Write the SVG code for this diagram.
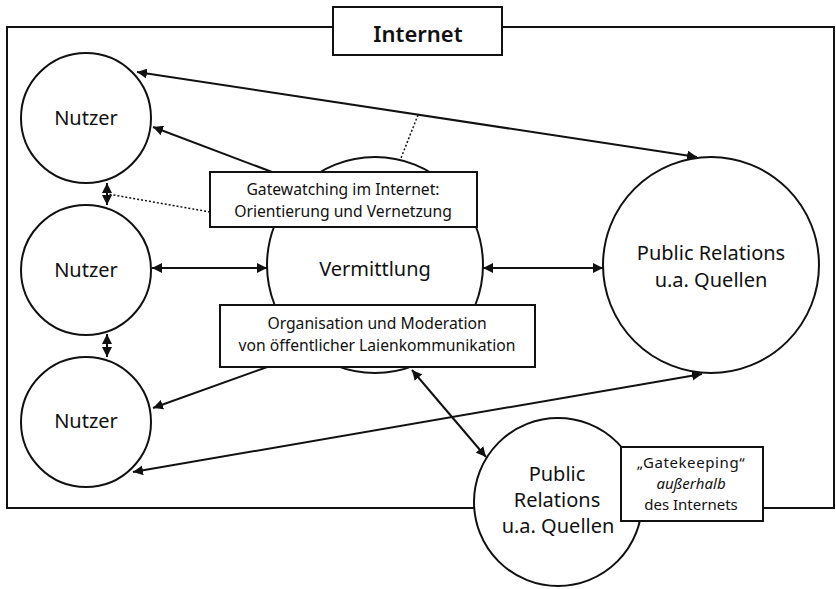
<svg xmlns="http://www.w3.org/2000/svg" width="836" height="589" viewBox="0 0 836 589">
<style>
.n{fill:#fff;stroke:#111;stroke-width:2}
.b{fill:#fff;stroke:#111;stroke-width:2}
.t{font-family:"Noto Sans",Lato,sans-serif;fill:#111;text-anchor:middle}
.big{font-size:20px}
.sm{font-size:15.7px}
.c{stroke:#111;stroke-width:2;fill:none}
.d{stroke:#111;stroke-width:1.5;fill:none;stroke-dasharray:2 2}
</style>
<defs>
<marker id="ah" viewBox="0 0 10 10" refX="10" refY="5" markerWidth="10" markerHeight="10" markerUnits="userSpaceOnUse" orient="auto-start-reverse">
<path d="M0,0 L10,5 L0,10 z" fill="#111"/>
</marker>
</defs>
<rect width="836" height="589" fill="#fff"/>
<g id="frame">
<rect x="7" y="27" width="827" height="481" fill="none" stroke="#111" stroke-width="2"/>
</g>
<g id="connectors">
<line class="c" x1="137" y1="72" x2="697" y2="157" marker-start="url(#ah)" marker-end="url(#ah)"/>
<line class="d" x1="418" y1="115" x2="401" y2="158"/>
<line class="c" x1="272" y1="172" x2="153" y2="127" marker-end="url(#ah)"/>
<line class="d" x1="210" y1="212" x2="108" y2="194"/>
<line class="c" x1="107" y1="183" x2="107" y2="205" marker-start="url(#ah)" marker-end="url(#ah)"/>
<line class="c" x1="152" y1="268" x2="267" y2="268" marker-start="url(#ah)" marker-end="url(#ah)"/>
<line class="c" x1="483" y1="268" x2="603" y2="268" marker-start="url(#ah)" marker-end="url(#ah)"/>
<line class="c" x1="107" y1="334" x2="107" y2="357" marker-start="url(#ah)" marker-end="url(#ah)"/>
<line class="c" x1="270" y1="366" x2="153" y2="408" marker-end="url(#ah)"/>
<line class="c" x1="133" y1="472" x2="702" y2="374" marker-start="url(#ah)" marker-end="url(#ah)"/>
<line class="c" x1="412" y1="370" x2="486" y2="457" marker-start="url(#ah)" marker-end="url(#ah)"/>
</g>
<g id="internet">
<rect class="b" x="333" y="7" width="169" height="48"/>
<text class="t" x="418" y="42" font-size="22" font-weight="600">Internet</text>
</g>
<g id="nutzer1">
<circle class="n" cx="86" cy="118" r="65"/>
<text class="t big" x="86" y="125">Nutzer</text>
</g>
<g id="nutzer2">
<circle class="n" cx="86" cy="270" r="65"/>
<text class="t big" x="86" y="277">Nutzer</text>
</g>
<g id="nutzer3">
<circle class="n" cx="86" cy="422" r="65"/>
<text class="t big" x="86" y="428">Nutzer</text>
</g>
<g id="vermittlung">
<circle class="n" cx="375" cy="265" r="108"/>
<text class="t big" x="375" y="276">Vermittlung</text>
</g>
<g id="gatewatching">
<rect class="b" x="210" y="172" width="267" height="55"/>
<text class="t sm" x="343" y="195">Gatewatching im Internet:</text>
<text class="t sm" x="343" y="217">Orientierung und Vernetzung</text>
</g>
<g id="organisation">
<rect class="b" x="220" y="305" width="315" height="62"/>
<text class="t sm" x="377" y="329">Organisation und Moderation</text>
<text class="t sm" x="377" y="351">von öffentlicher Laienkommunikation</text>
</g>
<g id="pr-right">
<circle class="n" cx="711" cy="265" r="108"/>
<text class="t big" x="711" y="260">Public Relations</text>
<text class="t big" x="711" y="287">u.a. Quellen</text>
</g>
<g id="pr-bottom">
<circle class="n" cx="558" cy="502" r="84"/>
<text class="t big" x="557" y="481">Public</text>
<text class="t big" x="557" y="507">Relations</text>
<text class="t big" x="558" y="533">u.a. Quellen</text>
</g>
<g id="gatekeeping">
<rect class="b" x="621" y="447" width="142" height="74"/>
<text class="t" x="691" y="468" font-size="15" letter-spacing="0.6">„Gatekeeping“</text>
<text class="t" x="691" y="489" font-size="15" font-style="italic">außerhalb</text>
<text class="t" x="691" y="510" font-size="15">des Internets</text>
</g>
</svg>
